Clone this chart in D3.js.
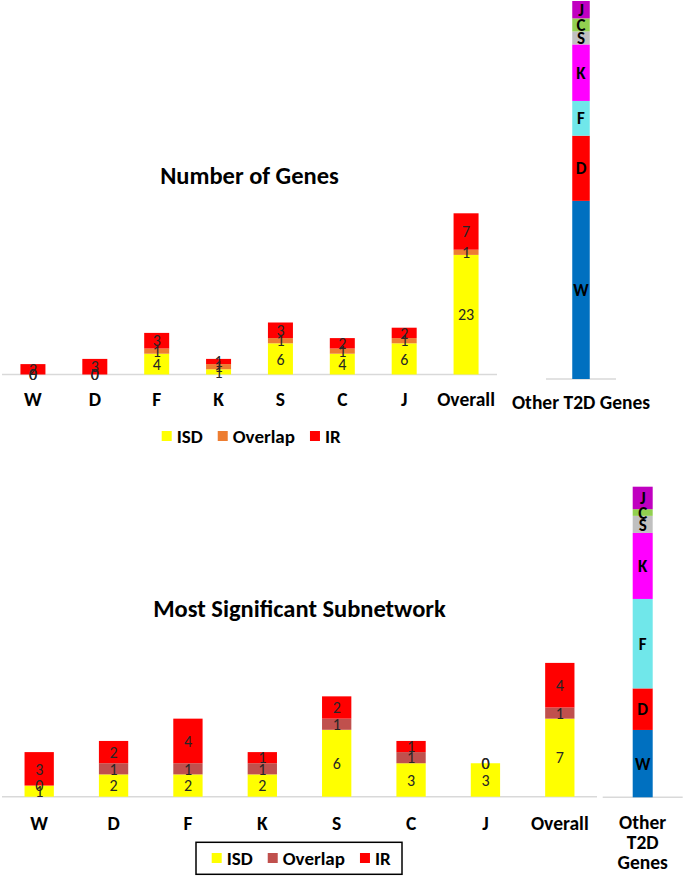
<!DOCTYPE html>
<html>
<head>
<meta charset="utf-8">
<script src="https://cdn.jsdelivr.net/npm/d3@7"></script>
<style>
  html, body { margin: 0; padding: 0; background: #fff; }
  svg { display: block; font-family: Carlito, Lato, "Open Sans", sans-serif; }
</style>
</head>
<body>
<svg id="chart" width="685" height="879"></svg>
<script>
// ---------- DATA ----------
const categories = ["W", "D", "F", "K", "S", "C", "J", "Overall"];
const seriesNames = ["ISD", "Overlap", "IR"];

// Panel 1: Number of Genes
const genesISD     = [0, 0, 4, 1, 6, 4, 6, 23];
const genesOverlap = [0, 0, 1, 1, 1, 1, 1, 1];
const genesIR      = [2, 3, 3, 1, 3, 2, 2, 7];

// Panel 2: Most Significant Subnetwork
const subISD     = [1, 2, 2, 2, 6, 3, 3, 7];
const subOverlap = [0, 1, 1, 1, 1, 1, 0, 1];
const subIR      = [3, 2, 4, 1, 2, 1, 0, 4];

// "Other T2D Genes" stacked bars (bottom to top)
const otherCats = ["W", "D", "F", "K", "S", "C", "J"];
const otherGenesTop = [41, 15, 8, 13, 3, 3, 4];
const otherGenesBottom = [20.1, 12.4, 26.7, 19.7, 5.1, 2.0, 6.7];

const titles = ["Number of Genes", "Most Significant Subnetwork"];
const otherLabel = "Other T2D Genes";

// ---------- STYLE ----------
const colorsTop = { ISD: "#FFFF00", Overlap: "#ED7D31", IR: "#FF0000" };
const colorsBottom = { ISD: "#FFFF00", Overlap: "#C0504D", IR: "#FF0000" };
const otherColors = { W: "#0070C0", D: "#FF0000", F: "#70E7EA", K: "#FF00FF", S: "#C0C0C0", C: "#92D050", J: "#C000C0" };

const svg = d3.select("#chart");

function buildRows(isd, ov, ir) {
  return categories.map((c, i) => ({ cat: c, ISD: isd[i], Overlap: ov[i], IR: ir[i] }));
}

function drawPanel(opts) {
  const g = svg.append("g");
  const x = d3.scaleBand().domain(categories).range(opts.xRange)
    .paddingInner(opts.pad).paddingOuter(opts.pad / 2);
  const y = d3.scaleLinear().domain([0, opts.yMax]).range([opts.base, opts.base - opts.yMax * opts.unit]);
  const rows = buildRows(...opts.data);
  const stacked = d3.stack().keys(seriesNames)(rows);

  // axis line
  g.append("line").attr("x1", opts.xRange[0]).attr("x2", opts.xRange[1])
    .attr("y1", opts.base).attr("y2", opts.base)
    .attr("stroke", "#D9D9D9").attr("stroke-width", 1.5);

  stacked.forEach(layer => {
    g.append("g").selectAll("rect").data(layer).join("rect")
      .attr("x", d => x(d.data.cat))
      .attr("width", x.bandwidth())
      .attr("y", d => y(d[1]))
      .attr("height", d => y(d[0]) - y(d[1]))
      .attr("fill", opts.colors[layer.key]);
  });
  stacked.forEach(layer => {
    g.append("g").selectAll("text").data(layer).join("text")
      .attr("x", d => x(d.data.cat) + x.bandwidth() / 2)
      .attr("y", d => (y(d[0]) + y(d[1])) / 2)
      .attr("dy", "0.36em")
      .attr("text-anchor", "middle")
      .attr("font-size", 16)
      .attr("fill", "#262626")
      .text(d => d[1] - d[0]);
  });

  // category labels
  g.append("g").selectAll("text").data(categories).join("text")
    .attr("x", d => x(d) + x.bandwidth() / 2)
    .attr("y", opts.labelY)
    .attr("text-anchor", "middle")
    .attr("font-size", 19.5).attr("font-weight", 700).attr("fill", "#000")
    .text(d => d);

  // title
  g.append("text")
    .attr("x", (opts.xRange[0] + opts.xRange[1]) / 2)
    .attr("y", opts.titleY)
    .attr("text-anchor", "middle")
    .attr("font-size", 24.5).attr("font-weight", 700).attr("fill", "#000")
    .text(opts.title);

  // legend
  const lg = g.append("g");
  let cx = opts.legendX;
  seriesNames.forEach((s, i) => {
    lg.append("rect").attr("x", cx).attr("y", opts.legendY - 5).attr("width", 10).attr("height", 10)
      .attr("fill", opts.colors[s]);
    const t = lg.append("text").attr("x", cx + 15).attr("y", opts.legendY + 6.5)
      .attr("font-size", 19).attr("font-weight", 700).attr("fill", "#000").text(s);
    cx += 15 + t.node().getComputedTextLength() + 15;
  });
  if (opts.legendBox) {
    const b = opts.legendBox;
    lg.insert("rect", ":first-child").attr("x", b[0]).attr("y", b[1]).attr("width", b[2]).attr("height", b[3])
      .attr("fill", "#fff").attr("stroke", "#000").attr("stroke-width", 1.5);
  }
}

function drawOther(opts) {
  const g = svg.append("g");
  const total = d3.sum(opts.values);
  const y = d3.scaleLinear().domain([0, total]).range([opts.base, opts.top]);
  const x = d3.scaleBand().domain([otherLabel]).range(opts.xRange).padding(opts.pad);
  const row = {}; otherCats.forEach((c, i) => row[c] = opts.values[i]);
  const stacked = d3.stack().keys(otherCats)([row]);

  g.append("line").attr("x1", opts.xRange[0]).attr("x2", opts.xRange[1])
    .attr("y1", opts.base).attr("y2", opts.base)
    .attr("stroke", "#D9D9D9").attr("stroke-width", 1.5);

  stacked.forEach(layer => {
    const d = layer[0];
    g.append("rect").attr("x", x(otherLabel)).attr("width", x.bandwidth())
      .attr("y", y(d[1])).attr("height", y(d[0]) - y(d[1]))
      .attr("fill", otherColors[layer.key]);
  });
  stacked.forEach(layer => {
    const d = layer[0];
    g.append("text").attr("x", x(otherLabel) + x.bandwidth() / 2)
      .attr("y", (y(d[0]) + y(d[1])) / 2).attr("dy", "0.36em")
      .attr("text-anchor", "middle").attr("font-size", 17).attr("font-weight", 700).attr("fill", "#000")
      .text(layer.key);
  });
  const lbl = g.append("text").attr("text-anchor", "middle")
    .attr("font-size", 19.5).attr("font-weight", 700).attr("fill", "#000");
  opts.labelLines.forEach((ln, i) => {
    lbl.append("tspan").attr("x", x(otherLabel) + x.bandwidth() / 2)
      .attr("y", opts.labelY + i * 20).text(ln);
  });
}

drawPanel({
  data: [genesISD, genesOverlap, genesIR], colors: colorsTop,
  xRange: [2, 497], pad: 0.596, base: 374.5, unit: 5.2, yMax: 35,
  labelY: 406, titleY: 183.5, title: titles[0],
  legendX: 161.7, legendY: 436
});
drawPanel({
  data: [subISD, subOverlap, subIR], colors: colorsBottom,
  xRange: [2, 597], pad: 0.606, base: 796.7, unit: 11.15, yMax: 14,
  labelY: 830, titleY: 617, title: titles[1],
  legendX: 211.7, legendY: 858, legendBox: [196, 842.3, 206, 32]
});
drawOther({
  values: otherGenesTop, xRange: [546, 616], pad: 0.6, base: 379, top: 1,
  labelY: 409, labelLines: [otherLabel]
});
drawOther({
  values: otherGenesBottom, xRange: [602.7, 682.7], pad: 0.6, base: 797.3, top: 486.7,
  labelY: 828.5, labelLines: ["Other", "T2D", "Genes"]
});
</script>
</body>
</html>
